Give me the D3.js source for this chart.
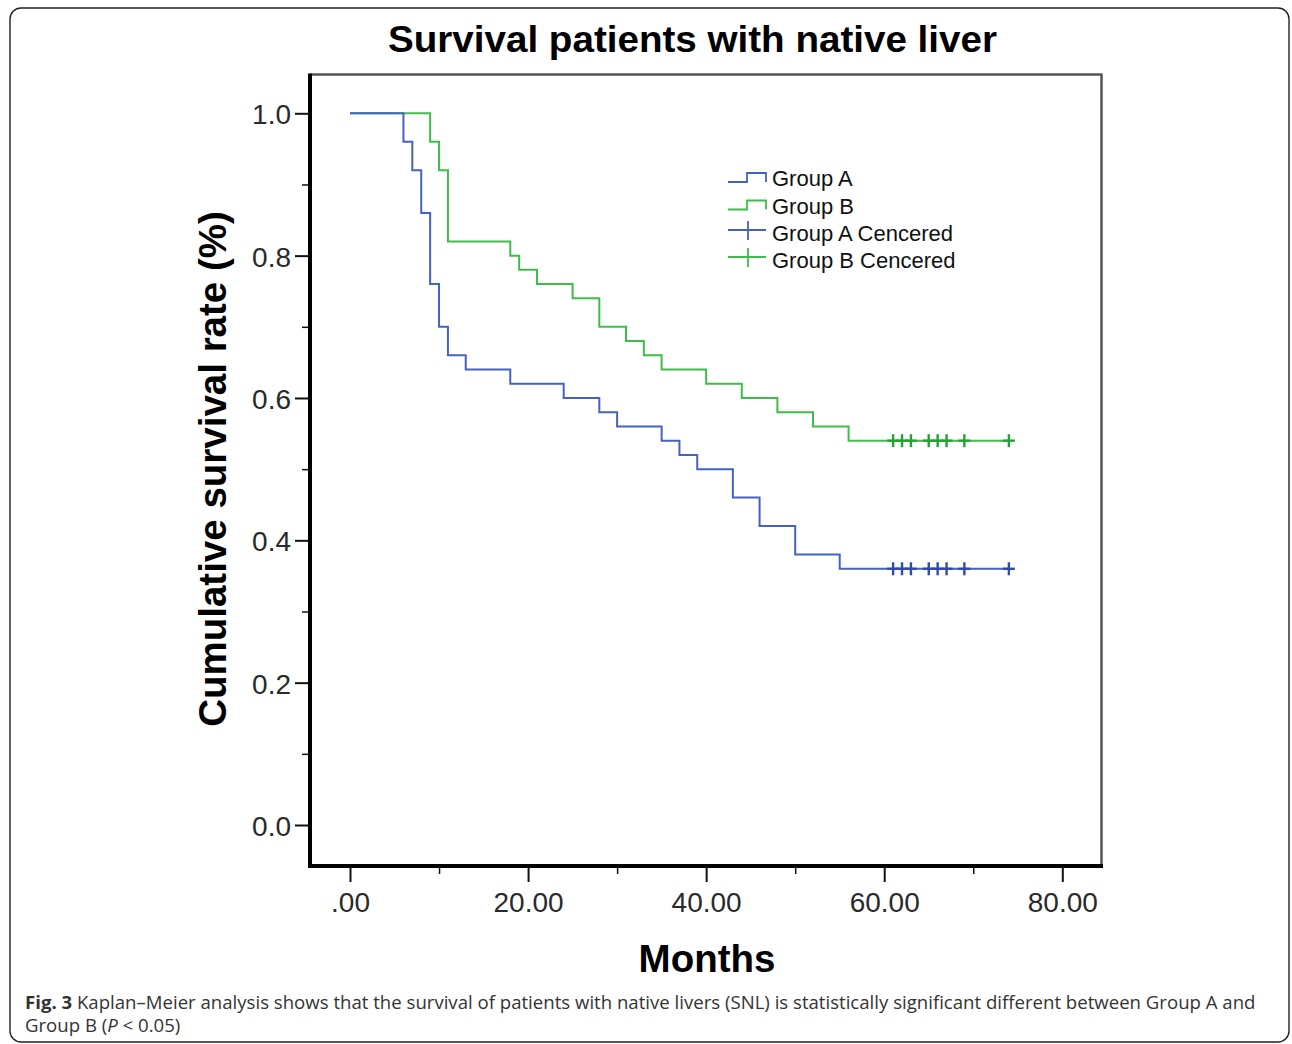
<!DOCTYPE html>
<html>
<head>
<meta charset="utf-8">
<script src="https://cdn.jsdelivr.net/npm/d3@7/dist/d3.min.js"></script>
<style>
  html, body { margin: 0; padding: 0; background: #fff; }
  svg { display: block; }
</style>
</head>
<body>
<svg id="chart" width="1292" height="1044"></svg>
<script>
// ---- data ----
const timesA = [0, 6, 7, 8, 9, 10, 11, 13, 18, 24, 28, 30, 35, 37, 39, 43, 46, 50, 55];
const survA  = [1.00, 0.96, 0.92, 0.86, 0.76, 0.70, 0.66, 0.64, 0.62, 0.60, 0.58, 0.56, 0.54, 0.52, 0.50, 0.46, 0.42, 0.38, 0.36];
const timesB = [0, 9, 10, 11, 18, 19, 21, 25, 28, 31, 33, 35, 40, 44, 48, 52, 56];
const survB  = [1.00, 0.96, 0.92, 0.82, 0.80, 0.78, 0.76, 0.74, 0.70, 0.68, 0.66, 0.64, 0.62, 0.60, 0.58, 0.56, 0.54];
const censoredA = [61, 62, 63, 65, 66, 67, 69, 74];
const censoredB = [61, 62, 63, 65, 66, 67, 69, 74];
const xTicks = [0, 20, 40, 60, 80];
const xMinorTicks = [10, 30, 50, 70];
const yTicks = [0, 0.2, 0.4, 0.6, 0.8, 1.0];
const yMinorTicks = [0.1, 0.3, 0.5, 0.7, 0.9];
const legendLabels = ["Group A", "Group B", "Group A Cencered", "Group B Cencered"];
const titleText = "Survival patients with native liver";
const xLabel = "Months";
const yLabel = "Cumulative survival rate (%)";

// ---- style ----
const blue = "#4462c2", green = "#3fbd4b";
const blueDark = "#2f4aa8", greenDark = "#23a332";

const svg = d3.select("#chart");
const x = d3.scaleLinear().domain([0, 80]).range([350, 1062.3]);
const y = d3.scaleLinear().domain([0, 1]).range([825, 113.3]);

const plot = {left: 310, right: 1101.5, top: 74.5, bottom: 866};

// outer rounded frame
svg.append("rect").attr("x", 10).attr("y", 8).attr("width", 1279).attr("height", 1034)
  .attr("rx", 11).attr("fill", "none").attr("stroke", "#222").attr("stroke-width", 1.4);

// title
svg.append("text").attr("x", 692.5).attr("y", 52).attr("text-anchor", "middle")
  .attr("font-family", "Liberation Sans, Arial, sans-serif").attr("font-weight", "bold")
  .attr("font-size", 37).attr("textLength", 609).attr("lengthAdjust", "spacingAndGlyphs")
  .attr("fill", "#000").text(titleText);

// plot frame (top/right thin gray)
svg.append("line").attr("x1", plot.left).attr("x2", plot.right + 1).attr("y1", plot.top).attr("y2", plot.top)
  .attr("stroke", "#555").attr("stroke-width", 2.5);
svg.append("line").attr("x1", plot.right).attr("x2", plot.right).attr("y1", plot.top).attr("y2", plot.bottom)
  .attr("stroke", "#555").attr("stroke-width", 2.5);

// y axis
const yAxis = svg.append("g").attr("transform", `translate(${plot.left},0)`)
  .call(d3.axisLeft(y).tickValues(yTicks).tickSize(15).tickPadding(4).tickFormat(d3.format(".1f")));
yAxis.select(".domain").remove();
yAxis.selectAll(".tick line").attr("stroke", "#111").attr("stroke-width", 2);
yAxis.selectAll(".tick text").attr("font-family", "Liberation Sans, Arial, sans-serif")
  .attr("font-size", 28).attr("fill", "#2a2a2a").attr("x", -19).attr("dy", null).attr("y", 10.5);
const yMinor = svg.append("g").attr("transform", `translate(${plot.left},0)`)
  .call(d3.axisLeft(y).tickValues(yMinorTicks).tickSize(8).tickFormat(""));
yMinor.select(".domain").remove();
yMinor.selectAll(".tick line").attr("stroke", "#111").attr("stroke-width", 1.5);

// x axis
const fmtX = d => d === 0 ? ".00" : d.toFixed(2);
const xAxis = svg.append("g").attr("transform", `translate(0,${plot.bottom})`)
  .call(d3.axisBottom(x).tickValues(xTicks).tickSize(16).tickFormat(fmtX));
xAxis.select(".domain").remove();
xAxis.selectAll(".tick line").attr("stroke", "#111").attr("stroke-width", 2);
xAxis.selectAll(".tick text").attr("font-family", "Liberation Sans, Arial, sans-serif")
  .attr("font-size", 28).attr("fill", "#2a2a2a").attr("dy", null).attr("y", 46);
const xMinor = svg.append("g").attr("transform", `translate(0,${plot.bottom})`)
  .call(d3.axisBottom(x).tickValues(xMinorTicks).tickSize(8).tickFormat(""));
xMinor.select(".domain").remove();
xMinor.selectAll(".tick line").attr("stroke", "#111").attr("stroke-width", 1.5);

// thick left/bottom axes lines
svg.append("line").attr("x1", plot.left).attr("x2", plot.left).attr("y1", plot.top - 1).attr("y2", plot.bottom + 2)
  .attr("stroke", "#000").attr("stroke-width", 4);
svg.append("line").attr("x1", plot.left - 2).attr("x2", plot.right + 1.5).attr("y1", plot.bottom).attr("y2", plot.bottom)
  .attr("stroke", "#000").attr("stroke-width", 4);

// axis labels
svg.append("text").attr("x", 707).attr("y", 972).attr("text-anchor", "middle")
  .attr("font-family", "Liberation Sans, Arial, sans-serif").attr("font-weight", "bold")
  .attr("font-size", 38.5).attr("fill", "#000").text(xLabel);
svg.append("text").attr("transform", "translate(226,469) rotate(-90)").attr("text-anchor", "middle")
  .attr("font-family", "Liberation Sans, Arial, sans-serif").attr("font-weight", "bold")
  .attr("font-size", 38.5).attr("fill", "#000").text(yLabel);

// survival curves
const line = d3.line().x(d => x(d[0])).y(d => y(d[1])).curve(d3.curveStepAfter);
function curvePoints(times, surv, cens) {
  const pts = times.map((t, i) => [t, surv[i]]);
  pts.push([d3.max(cens), surv[surv.length - 1]]);
  return pts;
}
svg.append("path").attr("d", line(curvePoints(timesB, survB, censoredB)))
  .attr("fill", "none").attr("stroke", green).attr("stroke-width", 2);
svg.append("path").attr("d", line(curvePoints(timesA, survA, censoredA)))
  .attr("fill", "none").attr("stroke", blue).attr("stroke-width", 2);

// censored marks
function drawCens(cens, level, color) {
  const g = svg.append("g");
  cens.forEach(t => {
    const cx = x(t), cy = y(level);
    g.append("line").attr("x1", cx - 6).attr("x2", cx + 6).attr("y1", cy).attr("y2", cy)
      .attr("stroke", color).attr("stroke-width", 2.4);
    g.append("line").attr("x1", cx).attr("x2", cx).attr("y1", cy - 6.5).attr("y2", cy + 6.5)
      .attr("stroke", color).attr("stroke-width", 2.4);
  });
}
drawCens(censoredB, survB[survB.length - 1], greenDark);
drawCens(censoredA, survA[survA.length - 1], blueDark);

// legend
const legColors = [blue, green, blue, green];
const legBase = [186, 213.5, 241, 268];
legendLabels.forEach((lab, i) => {
  const by = legBase[i];
  if (i < 2) {
    svg.append("path").attr("d", `M728,${by - 4}H747V${by - 13}H766V${by - 4}`)
      .attr("fill", "none").attr("stroke", legColors[i]).attr("stroke-width", 1.8);
  } else {
    svg.append("line").attr("x1", 728).attr("x2", 766).attr("y1", by - 11).attr("y2", by - 11)
      .attr("stroke", legColors[i]).attr("stroke-width", 1.8);
    svg.append("line").attr("x1", 748).attr("x2", 748).attr("y1", by - 20).attr("y2", by - 1)
      .attr("stroke", legColors[i]).attr("stroke-width", 1.8);
  }
  svg.append("text").attr("x", 772).attr("y", by)
    .attr("font-family", "Liberation Sans, Arial, sans-serif").attr("font-size", 22)
    .attr("fill", "#111").text(lab);
});

// caption
const cap1 = svg.append("text").attr("x", 25).attr("y", 1009)
  .attr("font-family", "Open Sans, sans-serif").attr("font-size", 18.6).attr("fill", "#333");
cap1.append("tspan").attr("font-weight", "bold").text("Fig. 3");
cap1.append("tspan").text(" Kaplan–Meier analysis shows that the survival of patients with native livers (SNL) is statistically significant different between Group A and");
const cap2 = svg.append("text").attr("x", 25).attr("y", 1032)
  .attr("font-family", "Open Sans, sans-serif").attr("font-size", 18.6).attr("fill", "#333");
cap2.append("tspan").text("Group B (");
cap2.append("tspan").attr("font-style", "italic").text("P");
cap2.append("tspan").text(" < 0.05)");
</script>
</body>
</html>
